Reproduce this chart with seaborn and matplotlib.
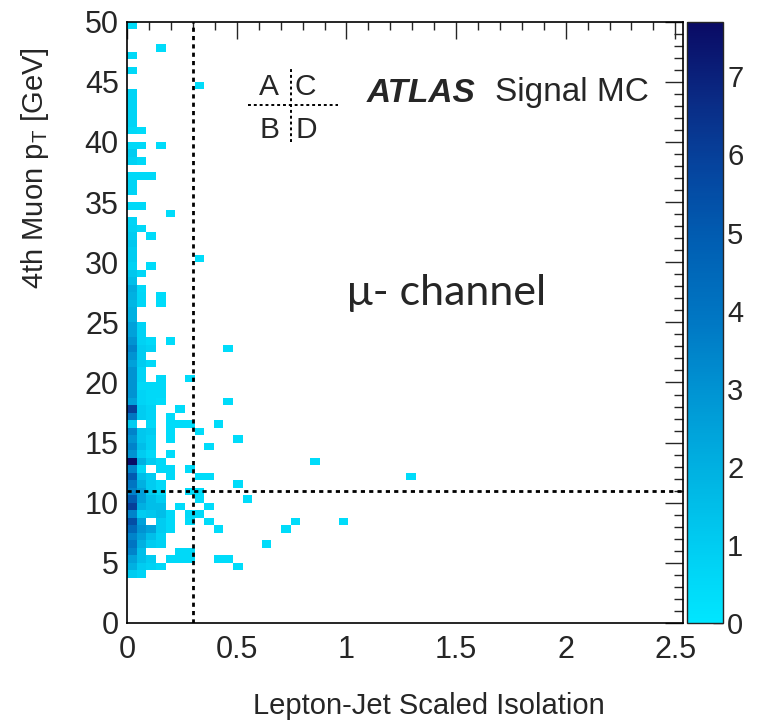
import numpy as np
import matplotlib
matplotlib.use("Agg")
import matplotlib.pyplot as plt
from matplotlib.colors import LinearSegmentedColormap
from matplotlib.ticker import MultipleLocator, FuncFormatter
import seaborn as sns

# ---------------- data (bin centres of filled cells) ----------------
# rows of the 2D histogram: pT centre -> ([isolation centres], [weights])
rows = {
    49.69: ([0.022], [0.4]),
    47.81: ([0.154], [0.4]),
    47.19: ([0.022], [0.5]),
    45.94: ([0.022], [0.5]),
    44.69: ([0.329], [0.4]),
    44.06: ([0.022], [0.7]),
    43.44: ([0.022], [0.7]),
    42.81: ([0.022], [0.7]),
    42.19: ([0.022], [0.7]),
    41.56: ([0.022], [0.7]),
    40.94: ([0.022, 0.066], [0.5, 0.4]),
    39.69: ([0.022, 0.066, 0.154], [0.5, 0.5, 0.4]),
    39.06: ([0.022], [1.0]),
    38.44: ([0.022, 0.066], [0.8, 0.5]),
    37.19: ([0.022, 0.066, 0.110], [0.5, 0.5, 0.5]),
    36.56: ([0.022], [0.7]),
    35.94: ([0.022], [0.7]),
    34.69: ([0.022, 0.066], [0.5, 0.5]),
    34.06: ([0.197], [0.4]),
    33.44: ([0.022], [0.7]),
    32.81: ([0.022, 0.066], [0.8, 0.5]),
    32.19: ([0.022, 0.110], [1.0, 0.4]),
    31.56: ([0.022], [1.2]),
    30.94: ([0.022], [1.0]),
    30.31: ([0.022, 0.329], [1.0, 0.4]),
    29.69: ([0.022, 0.110], [0.8, 0.4]),
    29.06: ([0.022, 0.066], [1.2, 0.6]),
    28.44: ([0.022], [1.5]),
    27.81: ([0.022, 0.066], [2.2, 0.5]),
    27.19: ([0.022, 0.066, 0.154], [2.0, 0.6, 0.4]),
    26.56: ([0.022, 0.066, 0.154], [1.8, 0.6, 0.4]),
    25.94: ([0.022], [2.0]),
    25.31: ([0.022], [2.0]),
    24.69: ([0.022, 0.066], [2.5, 0.7]),
    24.06: ([0.022, 0.066], [2.5, 0.8]),
    23.44: ([0.022, 0.066, 0.110, 0.197], [3.0, 0.8, 0.5, 0.4]),
    22.81: ([0.022, 0.066, 0.110, 0.461], [3.5, 1.0, 0.8, 0.4]),
    22.19: ([0.022, 0.066], [3.0, 1.0]),
    21.56: ([0.022, 0.066, 0.110], [2.5, 1.0, 0.5]),
    20.94: ([0.022, 0.066], [3.0, 0.7]),
    20.31: ([0.022, 0.066, 0.154, 0.285], [3.0, 0.7, 0.5, 0.4]),
    19.69: ([0.022, 0.066, 0.110, 0.154], [3.0, 0.5, 0.5, 0.5]),
    19.06: ([0.022, 0.066, 0.110, 0.154], [3.0, 0.7, 0.5, 0.5]),
    18.44: ([0.022, 0.066, 0.110, 0.154, 0.461], [2.5, 0.7, 0.5, 0.4, 0.4]),
    17.81: ([0.022, 0.066, 0.110, 0.241], [6.0, 1.0, 0.7, 0.4]),
    17.19: ([0.022, 0.066, 0.110, 0.197], [4.0, 1.0, 0.7, 0.4]),
    16.56: ([0.022, 0.110, 0.197, 0.241, 0.285, 0.417], [1.0, 0.5, 0.4, 0.4, 0.4, 0.4]),
    15.94: ([0.022, 0.066, 0.110, 0.197, 0.329], [3.5, 1.2, 1.0, 0.4, 0.4]),
    15.31: ([0.022, 0.066, 0.110, 0.197, 0.504], [3.0, 1.2, 0.8, 0.4, 0.4]),
    14.69: ([0.022, 0.066, 0.110, 0.373], [3.5, 1.5, 0.8, 0.4]),
    14.06: ([0.022, 0.066, 0.110, 0.197], [3.0, 1.0, 0.5, 0.4]),
    13.44: ([0.022, 0.066, 0.110, 0.154, 0.855], [7.6, 2.0, 1.0, 0.5, 0.4]),
    12.81: ([0.022, 0.066, 0.154, 0.197, 0.285], [3.5, 0.5, 0.5, 0.5, 0.4]),
    12.19: ([0.022, 0.066, 0.110, 0.197, 0.329, 0.373, 1.294], [5.0, 1.5, 1.0, 0.5, 0.4, 0.4, 0.4]),
    11.56: ([0.022, 0.066, 0.110, 0.154, 0.504], [4.0, 2.0, 1.0, 0.5, 0.4]),
    10.94: ([0.022, 0.066, 0.110, 0.154, 0.285, 0.329], [3.5, 2.5, 1.0, 0.5, 0.4, 0.4]),
    10.31: ([0.022, 0.066, 0.110, 0.154, 0.329, 0.548], [5.0, 2.5, 1.5, 1.0, 0.4, 0.4]),
    9.69: ([0.022, 0.066, 0.110, 0.154, 0.241, 0.373], [6.0, 2.0, 1.5, 1.5, 0.4, 0.4]),
    9.06: ([0.022, 0.066, 0.110, 0.154, 0.197, 0.285, 0.329], [3.5, 1.0, 1.2, 1.5, 0.5, 0.5, 0.5]),
    8.44: ([0.022, 0.066, 0.154, 0.197, 0.285, 0.373, 0.768, 0.987], [5.5, 2.5, 1.0, 0.5, 0.4, 0.4, 0.4, 0.4]),
    7.81: ([0.022, 0.066, 0.110, 0.154, 0.197, 0.417, 0.724], [4.5, 3.0, 2.5, 1.0, 0.5, 0.4, 0.4]),
    7.19: ([0.022, 0.066, 0.110, 0.154], [3.5, 2.5, 1.5, 0.8]),
    6.56: ([0.022, 0.066, 0.110, 0.154, 0.636], [4.0, 2.0, 1.0, 0.8, 0.4]),
    5.94: ([0.022, 0.066, 0.241, 0.285], [3.5, 1.5, 0.5, 0.5]),
    5.31: ([0.022, 0.066, 0.110, 0.197, 0.241, 0.285, 0.417, 0.461], [2.5, 1.5, 1.0, 0.5, 0.5, 0.5, 0.4, 0.4]),
    4.69: ([0.022, 0.066, 0.110, 0.154, 0.504], [2.0, 1.0, 0.8, 0.5, 0.4]),
    4.06: ([0.022, 0.066], [1.0, 0.7]),
}
pt, iso, w = [], [], []
for p, (xs, ws) in rows.items():
    for xv, wv in zip(xs, ws):
        pt.append(p)
        iso.append(xv)
        w.append(wv)

iso_bin_width = 2.5 / 57
pt_bin_width = 0.625
x_max = 2.535
y_max = 50.0
z_max = 7.7
cut_iso = 0.3
cut_pt = 11.0
cbar_ticks = [0, 1, 2, 3, 4, 5, 6, 7]

# ---------------- style ----------------
sns.set_style("white")
plt.rcParams["font.family"] = ["Liberation Sans", "DejaVu Sans"]
plt.rcParams["mathtext.default"] = "regular"

colors = ["#00e6ff", "#00cdf2", "#00b2e2", "#0096d4", "#0078c4",
          "#0060b4", "#0546a0", "#0a2a84", "#0a0a64"]
cmap = LinearSegmentedColormap.from_list("root_blue", colors)

fig = plt.figure(figsize=(7.58, 7.25), dpi=100)
ax = fig.add_axes([127.2 / 758, 102 / 725, 555.8 / 758, 601.3 / 725])
cax = fig.add_axes([687 / 758, 102 / 725, 36 / 758, 601.3 / 725])

xedges = np.arange(0, 60) * iso_bin_width
yedges = np.arange(0, 81) * pt_bin_width

sns.histplot(x=iso, y=pt, weights=w, bins=[xedges, yedges], cmap=cmap,
             ax=ax, cbar=False, thresh=0)
mesh = ax.collections[0]
mesh.set_clim(0, z_max)
mesh.set_linewidth(0)

cb = fig.colorbar(mesh, cax=cax)
cb.set_ticks(cbar_ticks)
cb.outline.set_linewidth(1.0)
cax.tick_params(axis="y", direction="in", length=7, width=1.0,
                labelsize=21, pad=3, right=True, left=False)
cax.minorticks_off()

ax.set_xlim(0, x_max)
ax.set_ylim(0, y_max)

dot = (0, (1.5, 1.5))
ax.axvline(cut_iso, color="black", lw=2.0, ls=dot)
ax.axhline(cut_pt, color="black", lw=2.0, ls=dot)

ax.xaxis.set_major_locator(MultipleLocator(0.5))
ax.xaxis.set_minor_locator(MultipleLocator(0.1))
ax.yaxis.set_major_locator(MultipleLocator(5))
ax.yaxis.set_minor_locator(MultipleLocator(1))
ax.xaxis.set_major_formatter(FuncFormatter(lambda v, p: f"{v:g}"))
ax.tick_params(which="both", direction="in", top=True, right=True,
               width=1.0, labelsize=22)
ax.tick_params(axis="x", which="major", length=12, pad=9)
ax.tick_params(axis="x", which="minor", length=6)
ax.tick_params(axis="y", which="major", length=13, pad=6)
ax.tick_params(axis="y", which="minor", length=6.5)
for s in ax.spines.values():
    s.set_linewidth(1.2)
    s.set_color("black")

ax.set_xlabel("Lepton-Jet Scaled Isolation", fontsize=21, va="center")
ax.xaxis.set_label_coords(0.543, -0.138)
ax.set_ylabel("4th Muon p$_{T}$ [GeV]", fontsize=21, va="center")
ax.yaxis.set_label_coords(-0.165, 0.757)

# ABCD sketch
ax.plot([0.2173, 0.3797], [0.8615, 0.8615], transform=ax.transAxes,
        color="black", lw=1.4, ls=(0, (1.5, 1.5)))
ax.plot([0.2947, 0.2947], [0.800, 0.923], transform=ax.transAxes,
        color="black", lw=1.4, ls=(0, (1.5, 1.5)))
for t, xa, ya in [("A", 0.2556, 0.8915), ("C", 0.3208, 0.8915),
                  ("B", 0.2569, 0.8199), ("D", 0.3217, 0.8199)]:
    ax.text(xa, ya, t, transform=ax.transAxes, fontsize=21.5,
            ha="center", va="center")

ax.text((366.7 - 127.2) / 555.8, (623 - 93) / 601.3, "ATLAS",
        transform=ax.transAxes, fontsize=24, fontweight="bold",
        fontstyle="italic", ha="left", va="center")
ax.text((495 - 127.2) / 555.8, (623 - 93) / 601.3, "Signal MC",
        transform=ax.transAxes, fontsize=24, ha="left", va="center")
ax.text((347 - 127.2) / 555.8, (623 - 293) / 601.3, "\u03bc- channel",
        transform=ax.transAxes, fontsize=31, ha="left", va="center",
        family=["Lato", "DejaVu Sans"])

fig.savefig("out.png", dpi=100, facecolor="white")
